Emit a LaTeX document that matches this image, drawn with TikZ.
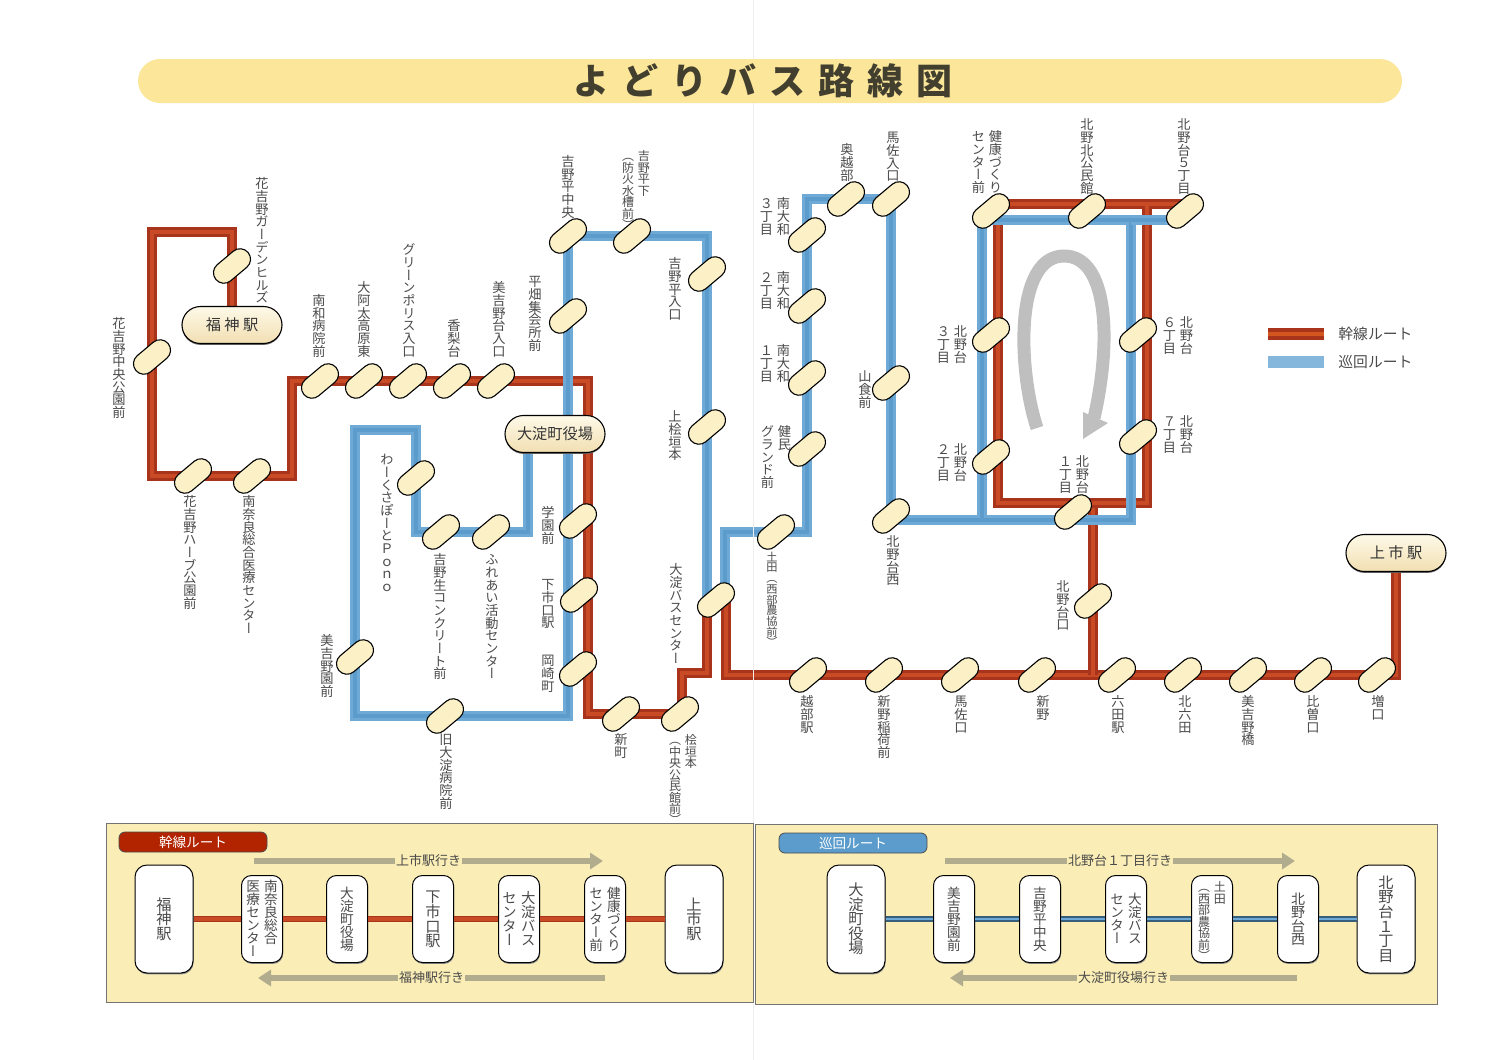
\documentclass[tikz,border=0pt]{standalone}
\usepackage{fontspec}
\setmainfont{Noto Sans CJK JP}
\newfontfamily\tatefont{Noto Sans CJK JP}[RawFeature={+vert}]
\newfontfamily\titlefont{Noto Sans CJK JP}[LetterSpace=36]
\usetikzlibrary{arrows.meta,shapes.misc,shadows}

\definecolor{routeRed}{HTML}{A8351B}
\definecolor{routeRedLt}{HTML}{C84B26}
\definecolor{routeBlue}{HTML}{6FA9D6}
\definecolor{routeBlueLt}{HTML}{5B9CCC}
\definecolor{stopFill}{HTML}{FBF0C6}
\definecolor{barFill}{HTML}{FBE69A}
\definecolor{panelFill}{HTML}{FAEDB6}
\definecolor{textGray}{HTML}{4A4A4A}
\definecolor{arrowGray}{HTML}{B2AC8F}

% vertical text, one cell per character
\makeatletter
\def\tate@open{（}
\def\tate@close{）}
\def\tate@cell{%
  \ifx\tate@c\tate@open
    \hbox to 1em{\hss\vrule height .48em width 0pt\smash{\raise.1em\hbox{\tate@c}}\hss}%
  \else\ifx\tate@c\tate@close
    \hbox to 1em{\hss\vrule height .48em width 0pt\smash{\lower.32em\hbox{\tate@c}}\hss}%
  \else
    \hbox to 1em{\hss\vrule height .96em width 0pt\smash{\raise.1em\hbox{\tate@c}}\hss}%
  \fi\fi}
\newcommand{\tate}[1]{\vtop{\offinterlineskip\tatefont\@tfor\tate@c:=#1\do{\tate@cell}}}
\newcommand{\tatewide}[1]{{\let\tate@open\relax\tate{#1}}}
\makeatother
\newcommand{\tatetwo}[2]{\hbox{\tate{#2}\kern .3em\tate{#1}}}

\pgfdeclarelayer{routes}
\pgfsetlayers{routes,main}

\tikzset{
  stop/.style={rounded rectangle,rotate=40,minimum width=21pt,minimum height=10.5pt,inner sep=0pt,
    draw=black,line width=.55pt,fill=stopFill},
  bigstop/.style={rounded rectangle,minimum width=50pt,minimum height=18.5pt,inner sep=0pt,
    draw=black,line width=.55pt,top color=white!60!stopFill,bottom color=stopFill!85!brown,
    text=black!80,font=\fontsize{7.6}{9}\selectfont,
    drop shadow={shadow xshift=0pt,shadow yshift=-.7pt,fill=black!60,opacity=1}},
  lbl/.style={inner sep=0pt,text=textGray,font=\fontsize{6.6}{7}\selectfont},
  lblsm/.style={inner sep=0pt,text=textGray,font=\fontsize{6}{7}\selectfont},
  redroute/.style={draw=routeRed,line width=5pt,postaction={draw=routeRedLt,line width=2.4pt}},
  blueroute/.style={draw=routeBlue,line width=5pt,postaction={draw=routeBlueLt,line width=2.4pt}},
  panel/.style={draw=black!55,line width=.5pt,fill=panelFill},
  boxbig/.style={rectangle,rounded corners=6pt,minimum width=29pt,minimum height=54pt,inner sep=0pt,
    draw=black,line width=.5pt,fill=white,text=textGray,font=\fontsize{7.6}{9}\selectfont,
    drop shadow={shadow xshift=.3pt,shadow yshift=-.7pt,fill=black!45,opacity=1}},
  boxmid/.style={rectangle,rounded corners=5pt,minimum width=20.5pt,minimum height=43.5pt,inner sep=0pt,
    draw=black,line width=.5pt,fill=white,text=textGray,font=\fontsize{6.8}{8}\selectfont,
    drop shadow={shadow xshift=.3pt,shadow yshift=-.7pt,fill=black!45,opacity=1}},
  tag/.style={rectangle,rounded corners=3pt,minimum width=74pt,minimum height=10pt,inner sep=0pt,
    draw=black!70,line width=.4pt,text=white,font=\fontsize{6.8}{8}\selectfont},
  busarrow/.style={draw=arrowGray,line width=3pt,-{Triangle[length=6.5pt,width=8pt]}},
  arrowlbl/.style={fill=panelFill,inner sep=.6pt,text=textGray,font=\fontsize{6.5}{8}\selectfont},
  legendtxt/.style={inner sep=0pt,text=textGray,font=\fontsize{7.4}{9}\selectfont},
}

\begin{document}
\begin{tikzpicture}[x=0.5pt,y=-0.5pt,line cap=butt,line join=miter]
  \useasboundingbox (0,0) rectangle (1500,1060);
  \draw[black!7,line width=.4pt] (753,0) -- (753,60) (753,103) -- (753,823) (753,1004) -- (753,1060);

  % title
  \node[rectangle,rounded corners=11pt,minimum width=632pt,minimum height=22pt,inner sep=0pt,fill=barFill] (titlebar) at (770,81) {};
  \node[inner sep=0pt,text=black!50!olive!60!black,font=\titlefont\bfseries\fontsize{18}{20}\selectfont] (title) at (763,81) {よどりバス路線図};

  % stations
  \node[bigstop] (fukujin) at (232,325) {福 神 駅};
  \node[bigstop] (yakuba) at (555,434) {大淀町役場};
  \node[bigstop] (kamiichi) at (1396,553) {上 市 駅};

  % stops, left half
  \node[stop] (garden) at (232,266) {};
  \node[stop] (kouen) at (152,357) {};
  \node[stop] (herb) at (193,476) {};
  \node[stop] (nara) at (252,476) {};
  \node[stop] (minamiwa) at (320,381) {};
  \node[stop] (oada) at (364,381) {};
  \node[stop] (green) at (408,381) {};
  \node[stop] (kanashi) at (452,381) {};
  \node[stop] (miyoshidai) at (496,381) {};
  \node[stop] (heichuo) at (568,236) {};
  \node[stop] (hirahata) at (568,316) {};
  \node[stop] (heishita) at (632,236) {};
  \node[stop] (heiiri) at (707,274) {};
  \node[stop] (kamihi) at (707,427) {};
  \node[stop] (buscenter) at (716,600) {};
  \node[stop] (gakuen) at (578,521) {};
  \node[stop] (shimoichi) at (579,595) {};
  \node[stop] (okazaki) at (578,669) {};
  \node[stop] (work) at (416,478) {};
  \node[stop] (concrete) at (441,532) {};
  \node[stop] (fureai) at (491,532) {};
  \node[stop] (miyoshien) at (355,657) {};
  \node[stop] (kyuyodo) at (445,716) {};
  \node[stop] (shinmachi) at (621,714) {};
  \node[stop] (higaki) at (680,714) {};
  % stops, right half
  \node[stop] (tsuchida) at (776,532) {};
  \node[stop] (yamato3) at (807,235) {};
  \node[stop] (yamato2) at (807,306) {};
  \node[stop] (yamato1) at (807,378) {};
  \node[stop] (kenmin) at (807,449) {};
  \node[stop] (okkobe) at (846,199) {};
  \node[stop] (masairi) at (891,199) {};
  \node[stop] (yamajiki) at (891,383) {};
  \node[stop] (kitanishi) at (891,516) {};
  \node[stop] (kenko) at (991,211) {};
  \node[stop] (kitakou) at (1087,211) {};
  \node[stop] (kita5) at (1185,211) {};
  \node[stop] (kita3) at (991,335) {};
  \node[stop] (kita2) at (991,457) {};
  \node[stop] (kita6) at (1138,335) {};
  \node[stop] (kita7) at (1138,437) {};
  \node[stop] (kita1) at (1073,512) {};
  \node[stop] (kitaguchi) at (1093,601) {};
  \node[stop] (koshibe) at (808,675) {};
  \node[stop] (inari) at (884,675) {};
  \node[stop] (masaguchi) at (960,675) {};
  \node[stop] (shinno) at (1037,675) {};
  \node[stop] (muda) at (1117,675) {};
  \node[stop] (kitamuda) at (1183,675) {};
  \node[stop] (miyoshibashi) at (1248,675) {};
  \node[stop] (hiso) at (1313,675) {};
  \node[stop] (masu) at (1377,675) {};

  % bends
  \coordinate (ra) at (232,232);
  \coordinate (rb) at (152,232);
  \coordinate (rc) at (152,476);
  \coordinate (rd) at (292,476);
  \coordinate (re) at (292,381);
  \coordinate (rf) at (588,381);
  \coordinate (rg) at (588,714);
  \coordinate (rh) at (682,714);
  \coordinate (ri) at (682,673);
  \coordinate (rj) at (707,673);
  \coordinate (rk) at (707,600);
  \coordinate (rl) at (726,600);
  \coordinate (rm) at (726,675);
  \coordinate (rn) at (1396,675);
  \coordinate (ro) at (1093,675);
  \coordinate (rp) at (1093,503);
  \coordinate (rq) at (1185,204);
  \coordinate (rr) at (998,204);
  \coordinate (rs) at (998,503);
  \coordinate (rt) at (1147,503);
  \coordinate (ru) at (1147,204);
  \coordinate (ba) at (528,434);
  \coordinate (bb) at (528,532);
  \coordinate (bc) at (416,532);
  \coordinate (bd) at (416,430);
  \coordinate (be) at (355,430);
  \coordinate (bf) at (355,716);
  \coordinate (bg) at (568,716);
  \coordinate (bh) at (707,236);
  \coordinate (bi) at (707,600);
  \coordinate (bj) at (725,600);
  \coordinate (bk) at (725,532);
  \coordinate (bl) at (807,532);
  \coordinate (bm) at (807,199);
  \coordinate (bn) at (891,520);
  \coordinate (bo) at (1131,520);
  \coordinate (bp) at (1131,220);
  \coordinate (bq) at (982,220);
  \coordinate (br) at (982,520);
  \coordinate (bs) at (1185,220);

  \begin{pgfonlayer}{routes}
    \draw[redroute] (fukujin.center) -- (garden.center) -- (ra) -- (rb) -- (kouen.center) -- (rc) -- (herb.center) -- (nara.center) -- (rd) -- (re)
      -- (minamiwa.center) -- (oada.center) -- (green.center) -- (kanashi.center) -- (miyoshidai.center) -- (rf) -- (rg)
      -- (shinmachi.center) -- (higaki.center) -- (rh) -- (ri) -- (rj) -- (rk);
    \draw[redroute] (rl) -- (rm) -- (koshibe.center) -- (inari.center) -- (masaguchi.center) -- (shinno.center) -- (muda.center)
      -- (kitamuda.center) -- (miyoshibashi.center) -- (hiso.center) -- (masu.center) -- (rn) -- (kamiichi.center);
    \draw[redroute] (ro) -- (kitaguchi.center) -- (rp);
    \draw[redroute] (rq) -- (rr) -- (rs) -- (rt) -- (ru);
    \draw[blueroute] (ba) -- (bb) -- (fureai.center) -- (concrete.center) -- (bc) -- (work.center) -- (bd) -- (be)
      -- (miyoshien.center) -- (bf) -- (kyuyodo.center) -- (bg) -- (hirahata.center) -- (heichuo.center) -- (heishita.center)
      -- (bh) -- (heiiri.center) -- (kamihi.center) -- (bi);
    \draw[blueroute] (bj) -- (bk) -- (tsuchida.center) -- (bl) -- (kenmin.center) -- (yamato1.center) -- (yamato2.center) -- (yamato3.center)
      -- (bm) -- (okkobe.center) -- (masairi.center) -- (yamajiki.center) -- (kitanishi.center) -- (bn) -- (bo) -- (bp) -- (bq) -- (br);
    \draw[blueroute] (bp) -- (bs);
  \end{pgfonlayer}

  % stop names above or beside the line
  \node[lbl,anchor=north] (tGarden) at (262,177) {\tate{花吉野ガーデンヒルズ}};
  \node[lbl,anchor=north] (tKouen) at (119,317) {\tate{花吉野中央公園前}};
  \node[lbl,anchor=south] (tMinamiwa) at (319,358) {\tate{南和病院前}};
  \node[lbl,anchor=south] (tOada) at (364,358) {\tate{大阿太高原東}};
  \node[lbl,anchor=south] (tGreen) at (409,358) {\tate{グリーンポリス入口}};
  \node[lbl,anchor=south] (tKanashi) at (454,358) {\tate{香梨台}};
  \node[lbl,anchor=south] (tMiyoshidai) at (499,358) {\tate{美吉野台入口}};
  \node[lbl,anchor=south] (tHirahata) at (535,352) {\tate{平畑集会所前}};
  \node[lbl,anchor=south] (tHeichuo) at (568,219) {\tate{吉野平中央}};
  \node[lblsm,anchor=north] (tHeishita) at (636,150) {\tatetwo{吉野平下}{（防火水槽前）}};
  \node[lbl,anchor=north] (tHeiiri) at (675,257) {\tate{吉野平入口}};
  \node[lbl,anchor=north] (tKamihi) at (675,410) {\tate{上桧垣本}};
  \node[lbl,anchor=north] (tBuscenter) at (676,563) {\tate{大淀バスセンター}};
  \node[lbl,anchor=north] (tHerb) at (190,495) {\tate{花吉野ハーブ公園前}};
  \node[lbl,anchor=north] (tNara) at (249,495) {\tate{南奈良総合医療センター}};
  \node[lbl,anchor=north] (tWork) at (387,453) {\tate{わーくさぽーとＰｏｎｏ}};
  \node[lbl,anchor=north] (tConcrete) at (440,553) {\tate{吉野生コンクリート前}};
  \node[lbl,anchor=north] (tFureai) at (492,553) {\tate{ふれあい活動センター}};
  \node[lbl,anchor=north] (tGakuen) at (548,506) {\tate{学園前}};
  \node[lbl,anchor=north] (tShimoichi) at (548,578) {\tate{下市口駅}};
  \node[lbl,anchor=north] (tOkazaki) at (548,654) {\tate{岡崎町}};
  \node[lbl,anchor=north] (tMiyoshien) at (327,634) {\tate{美吉野園前}};
  \node[lbl,anchor=north] (tKyuyodo) at (446,733) {\tate{旧大淀病院前}};
  \node[lbl,anchor=north] (tShinmachi) at (621,733) {\tate{新町}};
  \node[lblsm,anchor=north] (tHigaki) at (683,734) {\tatetwo{桧垣本}{（中央公民館前）}};
  \node[lbl,font=\fontsize{5.6}{7}\selectfont,anchor=north] (tTsuchida) at (772,551) {\tatewide{土田（西部農協前）}};
  \node[lbl,anchor=north] (tOkkobe) at (847,143) {\tate{奥越部}};
  \node[lbl,anchor=north] (tMasairi) at (893,131) {\tate{馬佐入口}};
  \node[lbl,anchor=north] (tYamato3) at (775,197) {\tatetwo{南大和}{３丁目}};
  \node[lbl,anchor=north] (tYamato2) at (775,271) {\tatetwo{南大和}{２丁目}};
  \node[lbl,anchor=north] (tYamato1) at (775,344) {\tatetwo{南大和}{１丁目}};
  \node[lbl,anchor=north] (tKenmin) at (776,425) {\tatetwo{健民}{グランド前}};
  \node[lbl,anchor=north] (tYamajiki) at (865,370) {\tate{山食前}};
  \node[lbl,anchor=north] (tKenko) at (987,130) {\tatetwo{健康づくり}{センター前}};
  \node[lbl,anchor=north] (tKitakou) at (1087,118) {\tate{北野北公民館}};
  \node[lbl,anchor=north] (tKita5) at (1184,118) {\tate{北野台５丁目}};
  \node[lbl,anchor=north] (tKita3) at (952,325) {\tatetwo{北野台}{３丁目}};
  \node[lbl,anchor=north] (tKita2) at (952,443) {\tatetwo{北野台}{２丁目}};
  \node[lbl,anchor=north] (tKita1) at (1074,455) {\tatetwo{北野台}{１丁目}};
  \node[lbl,anchor=north] (tKita6) at (1178,316) {\tatetwo{北野台}{６丁目}};
  \node[lbl,anchor=north] (tKita7) at (1178,415) {\tatetwo{北野台}{７丁目}};
  \node[lbl,anchor=north] (tKitanishi) at (893,535) {\tate{北野台西}};
  \node[lbl,anchor=north] (tKitaguchi) at (1063,580) {\tate{北野台口}};
  \node[lbl,anchor=north] (tKoshibe) at (807,695) {\tate{越部駅}};
  \node[lbl,anchor=north] (tInari) at (884,695) {\tate{新野稲荷前}};
  \node[lbl,anchor=north] (tMasaguchi) at (961,695) {\tate{馬佐口}};
  \node[lbl,anchor=north] (tShinno) at (1043,695) {\tate{新野}};
  \node[lbl,anchor=north] (tMuda) at (1118,695) {\tate{六田駅}};
  \node[lbl,anchor=north] (tKitamuda) at (1185,695) {\tate{北六田}};
  \node[lbl,anchor=north] (tMiyoshibashi) at (1248,695) {\tate{美吉野橋}};
  \node[lbl,anchor=north] (tHiso) at (1313,695) {\tate{比曽口}};
  \node[lbl,anchor=north] (tMasu) at (1378,695) {\tate{増口}};

  % loop direction
  \draw[black!25,line width=6.5pt] (1037,428) .. controls (1018,370) and (1014,256) .. (1064,256) .. controls (1108,256) and (1112,340) .. (1094,418);
  \fill[black!25] (1083,412) -- (1108,423) -- (1083,439) -- cycle;

  % legend
  \coordinate (lgra) at (1268,334);
  \coordinate (lgrb) at (1324,334);
  \coordinate (lgba) at (1268,362);
  \coordinate (lgbb) at (1324,362);
  \draw[draw=routeRed,line width=6pt,postaction={draw=routeRedLt!80!orange,line width=2.4pt}] (lgra) -- (lgrb);
  \draw[draw=routeBlue!85!white,line width=6pt] (lgba) -- (lgbb);
  \node[legendtxt,anchor=west] (lgtxtr) at (1338,334) {幹線ルート};
  \node[legendtxt,anchor=west] (lgtxtb) at (1338,362) {巡回ルート};

  % panels
  \draw[panel] (106,823) rectangle (753,1002);
  \draw[panel] (755,824) rectangle (1437,1004);

  \node[tag,fill=red!60!orange!70!black] (tagred) at (193,842) {幹線ルート};
  \node[tag,fill=routeBlueLt] (tagblue) at (853,843) {巡回ルート};

  \node[boxbig] (pFukujin) at (164,919) {\tate{福神駅}};
  \node[boxmid] (pNara) at (262,919) {\tatetwo{南奈良総合}{医療センター}};
  \node[boxmid] (pYakuba) at (347,919) {\tate{大淀町役場}};
  \node[boxmid,font=\fontsize{7.6}{9}\selectfont] (pShimoichi) at (433,919) {\tate{下市口駅}};
  \node[boxmid,font=\fontsize{7.2}{9}\selectfont] (pBus) at (519,919) {\tatetwo{大淀バス}{センター}};
  \node[boxmid] (pKenko) at (605,919) {\tatetwo{健康づくり}{センター前}};
  \node[boxbig] (pKamiichi) at (694,919) {\tate{上市駅}};
  \draw[redroute,line width=3pt,postaction={draw=routeRedLt,line width=1pt}] (pFukujin) -- (pNara) (pNara) -- (pYakuba) (pYakuba) -- (pShimoichi) (pShimoichi) -- (pBus) (pBus) -- (pKenko) (pKenko) -- (pKamiichi);

  \node[boxbig] (qYakuba) at (856,919) {\tate{大淀町役場}};
  \node[boxmid] (qMiyoshien) at (954,919) {\tate{美吉野園前}};
  \node[boxmid] (qHeichuo) at (1040,919) {\tate{吉野平中央}};
  \node[boxmid] (qBus) at (1126,919) {\tatetwo{大淀バス}{センター}};
  \node[boxmid,font=\fontsize{6}{7}\selectfont] (qTsuchida) at (1212,919) {\tatetwo{土田}{（西部農協前）}};
  \node[boxmid,font=\fontsize{7}{8}\selectfont] (qKitanishi) at (1298,919) {\tate{北野台西}};
  \node[boxbig] (qKita1) at (1386,919) {\tate{北野台１丁目}};
  \draw[draw=routeBlueLt!60!black,line width=3pt,postaction={draw=routeBlue,line width=1pt}] (qYakuba) -- (qMiyoshien) (qMiyoshien) -- (qHeichuo) (qHeichuo) -- (qBus) (qBus) -- (qTsuchida) (qTsuchida) -- (qKitanishi) (qKitanishi) -- (qKita1);

  % direction arrows
  \coordinate (aa) at (254,861);
  \coordinate (ab) at (603,861);
  \coordinate (ac) at (605,978);
  \coordinate (ad) at (258,978);
  \coordinate (ae) at (945,861);
  \coordinate (af) at (1295,861);
  \coordinate (ag) at (1297,978);
  \coordinate (ah) at (950,978);
  \draw[busarrow] (aa) -- (ab) node[pos=.5,arrowlbl] (aKamiichi) {上市駅行き};
  \draw[busarrow] (ac) -- (ad) node[pos=.5,arrowlbl] (aFukujin) {福神駅行き};
  \draw[busarrow] (ae) -- (af) node[pos=.5,arrowlbl] (aKita1) {北野台１丁目行き};
  \draw[busarrow] (ag) -- (ah) node[pos=.5,arrowlbl] (aYakuba) {大淀町役場行き};
\end{tikzpicture}
\end{document}
